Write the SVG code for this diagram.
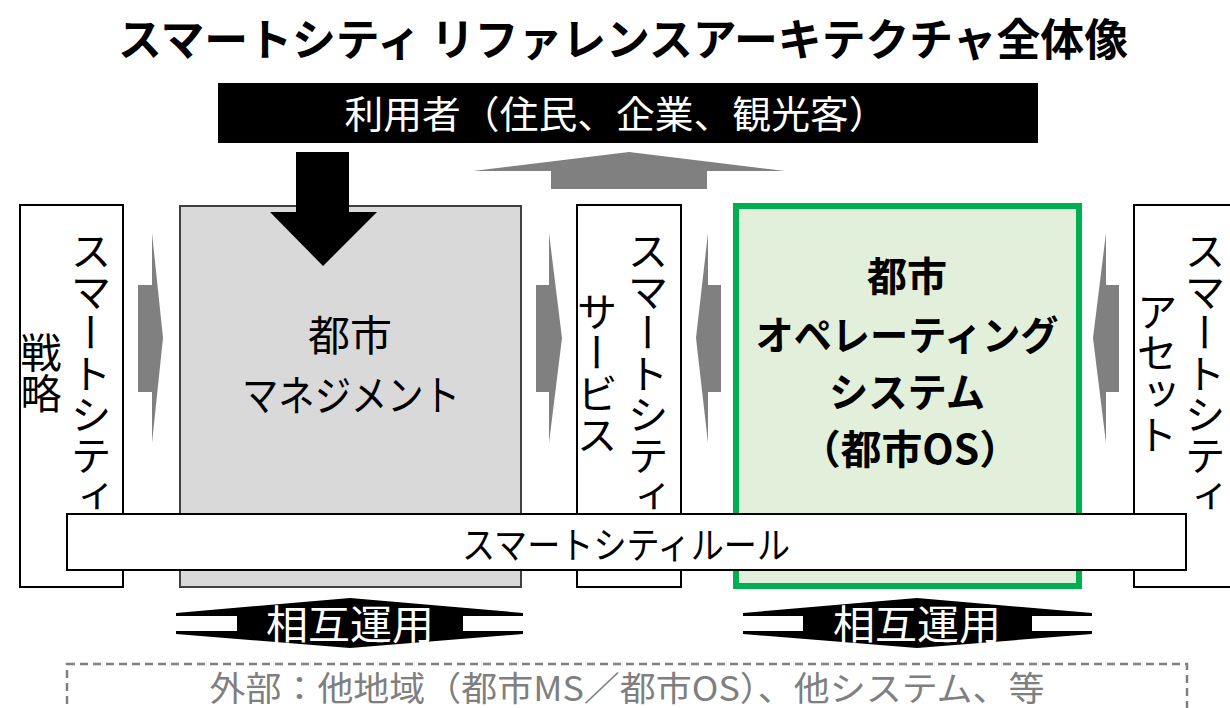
<svg xmlns="http://www.w3.org/2000/svg" width="1230" height="708" viewBox="0 0 1230 708">
<style>
text{font-family:"Noto Sans CJK JP","Noto Sans",sans-serif;}
.title{font-size:44px;font-weight:bold;fill:#000;}
.box{fill:#fff;stroke:#000;stroke-width:2;}
.mgmt{fill:#d9d9d9;stroke:#404040;stroke-width:2;}
.os{fill:#e2efda;stroke:#00b050;stroke-width:6;}
.vt{font-size:41px;fill:#000;writing-mode:vertical-rl;text-anchor:middle;}
.lbl{font-size:42px;fill:#000;text-anchor:middle;}
.bold{font-size:40px;font-weight:bold;fill:#000;text-anchor:middle;}
.garrow{fill:#808080;}
.white{fill:#fff;}
.wt{fill:#fff;text-anchor:middle;}
.ext{fill:none;stroke:#808080;stroke-width:2.5;stroke-dasharray:8 5;}
.extt{font-size:34px;fill:#7f7f7f;text-anchor:middle;}
</style>
<text class="title" x="623" y="56" text-anchor="middle" textLength="1010" lengthAdjust="spacingAndGlyphs">スマートシティ リファレンスアーキテクチャ全体像</text>

<g id="users">
<rect x="218" y="83" width="820" height="60" fill="#000"/>
<text class="wt" x="616" y="128" font-size="38" textLength="543" lengthAdjust="spacingAndGlyphs">利用者（住民、企業、観光客）</text>
</g>

<g id="strategy">
<rect class="box" x="20" y="205" width="103" height="382"/>
<text class="vt" x="91" y="373">スマートシティ</text>
<text class="vt" x="41" y="373">戦略</text>
</g>

<g id="management">
<rect class="mgmt" x="180" y="206" width="341" height="381"/>
<text class="lbl" x="350" y="351">都市</text>
<text class="lbl" x="351" y="411" textLength="218" lengthAdjust="spacingAndGlyphs">マネジメント</text>
</g>

<g id="service">
<rect class="box" x="577" y="205" width="104" height="382"/>
<text class="vt" x="648" y="373">スマートシティ</text>
<text class="vt" x="597" y="373">サービス</text>
</g>

<g id="cityos">
<rect class="os" x="736" y="206" width="343" height="380"/>
<text class="bold" x="907" y="291">都市</text>
<text class="bold" x="907" y="350" textLength="303" lengthAdjust="spacingAndGlyphs">オペレーティング</text>
<text class="bold" x="907" y="407" textLength="156" lengthAdjust="spacingAndGlyphs">システム</text>
<text class="bold" x="910" y="464" textLength="220" lengthAdjust="spacingAndGlyphs">（都市OS）</text>
</g>

<g id="asset">
<rect class="box" x="1134" y="205" width="110" height="382"/>
<text class="vt" x="1205" y="373">スマートシティ</text>
<text class="vt" x="1157" y="373">アセット</text>
</g>

<g id="connectors">
<polygon class="garrow" points="138,285 152,285 152,233 163,338 152,443 152,392 138,392"/>
<polygon class="garrow" points="536,285 549,285 549,233 562,338 549,443 549,392 536,392"/>
<polygon class="garrow" points="721,285 708,285 708,233 696,338 708,443 708,392 721,392"/>
<polygon class="garrow" points="1119,285 1106,285 1106,233 1093,338 1106,443 1106,392 1119,392"/>
<polygon class="garrow" points="551,189 707,189 707,171 785,171 629,152 473,171 551,171"/>
<polygon fill="#000" points="296,152 349,152 349,212 377,212 323,266 270,212 296,212"/>
</g>

<g id="rules">
<rect class="box" x="67" y="514" width="1119" height="56"/>
<text x="626" y="559" font-size="37" text-anchor="middle" textLength="328" lengthAdjust="spacingAndGlyphs">スマートシティルール</text>
</g>

<g id="interop-left">
<polygon fill="#000" points="176,613 350,598 523,613 523,634 350,648 176,634"/>
<rect class="white" x="176" y="616" width="61" height="15"/>
<rect class="white" x="463" y="616" width="60" height="15"/>
<text class="wt" x="350" y="639" font-size="40" textLength="168" lengthAdjust="spacingAndGlyphs">相互運用</text>
</g>

<g id="interop-right">
<polygon fill="#000" points="743,613 917,598 1092,613 1092,634 917,648 743,634"/>
<rect class="white" x="743" y="616" width="60" height="15"/>
<rect class="white" x="1032" y="616" width="60" height="15"/>
<text class="wt" x="917" y="639" font-size="40" textLength="168" lengthAdjust="spacingAndGlyphs">相互運用</text>
</g>

<g id="external">
<rect class="ext" x="67" y="664" width="1120" height="70"/>
<text class="extt" x="627" y="701" textLength="835" lengthAdjust="spacingAndGlyphs">外部：他地域（都市MS／都市OS）、他システム、等</text>
</g>
</svg>
